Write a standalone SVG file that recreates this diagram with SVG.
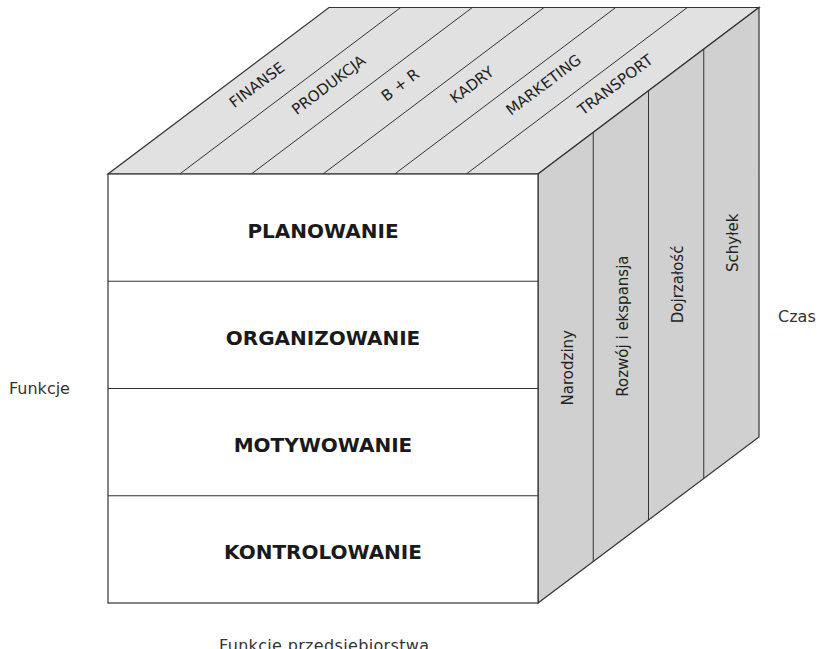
<svg xmlns="http://www.w3.org/2000/svg" width="819" height="649" viewBox="0 0 819 649">
  <style>
    .edge { stroke: #333333; stroke-width: 1.2; fill: none; }
    .div { stroke: #333333; stroke-width: 1; fill: none; }
    .front { fill: #ffffff; stroke: #333333; stroke-width: 1.2; }
    .top { fill: #e1e1e1; stroke: #333333; stroke-width: 1.2; }
    .side { fill: #d0d0d0; stroke: #333333; stroke-width: 1.2; }
    .fn { font-family: "DejaVu Sans", Verdana, sans-serif; font-weight: bold; font-size: 20px; fill: #1a1a1a; text-anchor: middle; }
    .dept { font-family: "DejaVu Sans", Verdana, sans-serif; font-size: 15px; fill: #222222; text-anchor: middle; dominant-baseline: central; }
    .phase { font-family: "DejaVu Sans", Verdana, sans-serif; font-size: 15px; fill: #222222; text-anchor: middle; dominant-baseline: central; }
    .axis { font-family: "DejaVu Sans", Verdana, sans-serif; font-size: 16px; fill: #333333; }
  </style>

  <!-- Top face: departments -->
  <g id="top-face">
    <polygon class="top" points="108,174 538,174 759,7.5 329,7.5"/>
    <line class="div" x1="179.7" y1="174" x2="400.7" y2="7.5"/>
    <line class="div" x1="251.3" y1="174" x2="472.3" y2="7.5"/>
    <line class="div" x1="323" y1="174" x2="544" y2="7.5"/>
    <line class="div" x1="394.7" y1="174" x2="615.7" y2="7.5"/>
    <line class="div" x1="466.3" y1="174" x2="687.3" y2="7.5"/>
  </g>
  <g id="dept-finanse"><text class="dept" transform="translate(257,85) rotate(-37)">FINANSE</text></g>
  <g id="dept-produkcja"><text class="dept" transform="translate(328.7,85) rotate(-37)">PRODUKCJA</text></g>
  <g id="dept-br"><text class="dept" transform="translate(400.3,85) rotate(-37)">B + R</text></g>
  <g id="dept-kadry"><text class="dept" transform="translate(472,85) rotate(-37)">KADRY</text></g>
  <g id="dept-marketing"><text class="dept" transform="translate(543.7,85) rotate(-37)">MARKETING</text></g>
  <g id="dept-transport"><text class="dept" transform="translate(615.3,85) rotate(-37)">TRANSPORT</text></g>

  <!-- Right face: life-cycle phases -->
  <g id="side-face">
    <polygon class="side" points="538,174 759,7.5 759,437 538,603"/>
    <line class="div" x1="593.25" y1="132.4" x2="593.25" y2="561.4"/>
    <line class="div" x1="648.5" y1="90.75" x2="648.5" y2="519.75"/>
    <line class="div" x1="703.75" y1="49.1" x2="703.75" y2="478.1"/>
  </g>
  <g id="phase-narodziny"><text class="phase" transform="translate(568,367.7) rotate(-90)">Narodziny</text></g>
  <g id="phase-rozwoj"><text class="phase" transform="translate(623,326.1) rotate(-90)">Rozwój i ekspansja</text></g>
  <g id="phase-dojrzalosc"><text class="phase" transform="translate(678,284.4) rotate(-90)">Dojrzałość</text></g>
  <g id="phase-schylek"><text class="phase" transform="translate(733,242.8) rotate(-90)">Schyłek</text></g>

  <!-- Front face: management functions -->
  <g id="front-face">
    <rect class="front" x="108" y="174" width="430" height="429"/>
    <line class="div" x1="108" y1="281.25" x2="538" y2="281.25"/>
    <line class="div" x1="108" y1="388.5" x2="538" y2="388.5"/>
    <line class="div" x1="108" y1="495.75" x2="538" y2="495.75"/>
  </g>
  <g id="fn-planowanie"><text class="fn" x="323" y="237.6">PLANOWANIE</text></g>
  <g id="fn-organizowanie"><text class="fn" x="323" y="344.9">ORGANIZOWANIE</text></g>
  <g id="fn-motywowanie"><text class="fn" x="323" y="452.1">MOTYWOWANIE</text></g>
  <g id="fn-kontrolowanie"><text class="fn" x="323" y="559.4">KONTROLOWANIE</text></g>

  <!-- Axis captions -->
  <g id="axis-funkcje"><text class="axis" x="9" y="394">Funkcje</text></g>
  <g id="axis-czas"><text class="axis" x="778" y="322">Czas</text></g>
  <g id="axis-przedsiebiorstwo"><text class="axis" x="219" y="651" textLength="210">Funkcje przedsiębiorstwa</text></g>

  <!-- No connectors in this figure -->
  <g id="connectors"/>
</svg>
